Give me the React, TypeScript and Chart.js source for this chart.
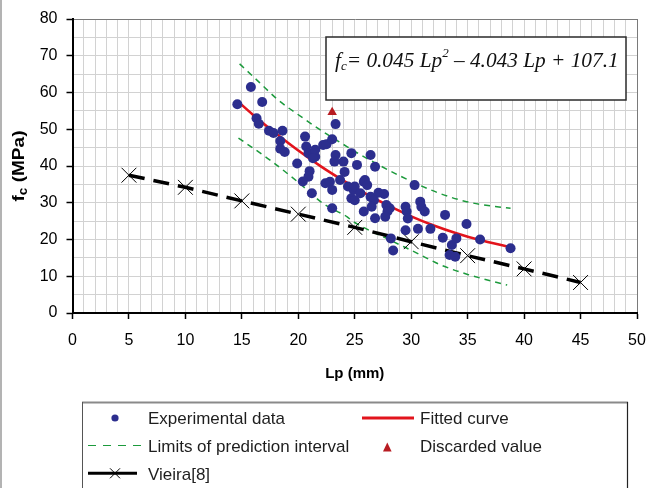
import React, { useEffect, useRef } from 'react';
import { Chart, registerables } from 'chart.js';

Chart.register(...registerables);

// ---------- data ----------
const expLp = [14.6, 15.8, 16.8, 16.3, 16.5, 17.4, 17.8, 18.6, 18.4, 18.4, 18.8, 19.9, 20.6, 20.7, 20.9, 21.3, 21.5, 21.5, 22.2, 22.5, 23.0, 23.3, 23.3, 23.2, 21.0, 20.9, 20.4, 21.2, 22.4, 22.8, 23.0, 23.7, 24.1, 24.0, 24.7, 25.2, 26.4, 26.8, 25.8, 25.9, 26.1, 24.4, 24.9, 25.0, 24.7, 25.0, 25.5, 26.4, 26.7, 26.5, 27.1, 27.6, 23.0, 25.8, 26.8, 27.8, 28.1, 27.9, 27.7, 29.5, 29.6, 29.7, 30.3, 30.8, 30.9, 31.2, 33.0, 29.5, 28.2, 28.4, 30.6, 31.7, 32.8, 33.6, 33.4, 33.9, 34.0, 34.9, 36.1, 38.8, 21.3];
const expFc = [56.8, 61.5, 57.4, 53.0, 51.5, 49.6, 49.0, 49.6, 46.8, 44.7, 43.8, 40.7, 48.0, 45.3, 43.5, 43.0, 42.5, 44.4, 45.7, 45.9, 47.3, 51.4, 43.0, 41.2, 38.6, 37.1, 35.8, 32.6, 35.3, 35.7, 33.5, 36.2, 38.4, 41.2, 43.5, 40.3, 43.0, 39.8, 35.7, 36.2, 34.8, 34.4, 33.5, 34.4, 31.2, 30.7, 32.6, 31.6, 30.7, 28.9, 32.7, 32.4, 28.5, 27.6, 25.8, 29.4, 28.5, 27.6, 26.2, 28.9, 27.6, 25.7, 34.8, 30.3, 28.9, 27.6, 26.7, 22.5, 20.3, 17.0, 22.9, 22.9, 20.5, 18.5, 15.8, 15.3, 20.3, 24.2, 20.0, 17.6, 42.1];

const discardedLp = [23.0];
const discardedFc = [54.6];

const fitLp = [14.6, 16, 18, 20, 22, 24, 26, 28, 30, 32, 34, 36, 38.8];
const fitFc = [57.7, 53.9, 48.9, 44.2, 39.9, 36.0, 32.4, 29.2, 26.3, 23.8, 21.7, 19.9, 17.9];

const upperLp = [14.8, 16.5, 18.2, 20.4, 22.3, 24.3, 25.2, 27.0, 29.0, 32.3, 34.9, 37.6, 38.8];
const upperFc = [67.8, 62.9, 58.0, 53.1, 49.1, 45.3, 43.6, 40.5, 37.3, 32.8, 30.3, 28.9, 28.5];

const lowerLp = [14.7, 17.5, 20.1, 22.2, 24.3, 24.9, 28.1, 30.5, 32.6, 35.0, 38.5];
const lowerFc = [47.6, 41.6, 35.3, 29.8, 26.2, 24.8, 19.9, 16.3, 13.1, 10.5, 7.6];

const vieiraLp = [5, 10, 15, 20, 25, 30, 35, 40, 45];
const vieiraFc = [37.5, 34.2, 30.5, 26.9, 23.3, 19.4, 15.6, 12.0, 8.3];

const xTickStep = 5;
const yTickStep = 10;

const zip = (xs: number[], ys: number[]) => xs.map((x, i) => ({ x, y: ys[i] }));

const FONT = '"Liberation Sans", Arial, sans-serif';

const yTitlePlugin = {
  id: 'yTitle',
  afterDraw(chart: any) {
    const { ctx, chartArea } = chart;
    ctx.save();
    ctx.translate(18, (chartArea.top + chartArea.bottom) / 2);
    ctx.rotate(-Math.PI / 2);
    ctx.scale(1.12, 1);
    ctx.fillStyle = '#000';
    ctx.textBaseline = 'alphabetic';
    ctx.textAlign = 'left';
    const big = `bold 17px ${FONT}`;
    const small = `bold 12px ${FONT}`;
    ctx.font = big;
    const wf = ctx.measureText('f').width;
    const wr = ctx.measureText(' (MPa)').width;
    ctx.font = small;
    const wc = ctx.measureText('c').width;
    const total = wf + wc + wr;
    let x = -total / 2;
    ctx.font = big;
    ctx.fillText('f', x, 6);
    x += wf;
    ctx.font = small;
    ctx.fillText('c', x, 9);
    x += wc;
    ctx.font = big;
    ctx.fillText(' (MPa)', x, 6);
    ctx.restore();
  },
};

export default function App() {
  const ref = useRef<HTMLCanvasElement | null>(null);

  useEffect(() => {
    if (!ref.current) return;
    const chart = new Chart(ref.current, {
      type: 'scatter',
      data: {
        datasets: [
          {
            label: 'Discarded value',
            data: zip(discardedLp, discardedFc),
            pointStyle: 'triangle',
            pointRadius: 5.5,
            backgroundColor: '#b81c22',
            borderColor: '#b81c22',
            borderWidth: 0,
          },
          {
            label: 'Experimental data',
            data: zip(expLp, expFc),
            pointStyle: 'circle',
            pointRadius: 5,
            backgroundColor: '#2c2e8e',
            borderColor: '#2c2e8e',
            borderWidth: 0,
          },
          {
            label: 'Vieira[8]',
            data: zip(vieiraLp, vieiraFc),
            showLine: true,
            borderColor: '#000',
            borderWidth: 3.5,
            borderDash: [16, 9],
            pointStyle: 'crossRot',
            pointRadius: 10.5,
            pointBorderWidth: 1,
            pointBorderColor: '#000',
            backgroundColor: '#000',
          },
          {
            label: 'Fitted curve',
            data: zip(fitLp, fitFc),
            showLine: true,
            borderColor: '#e2141c',
            borderWidth: 2.6,
            pointRadius: 0,
            cubicInterpolationMode: 'monotone',
          },
          {
            label: 'Upper limit',
            data: zip(upperLp, upperFc),
            showLine: true,
            borderColor: '#1c9a3c',
            borderWidth: 1.5,
            borderDash: [6, 5],
            pointRadius: 0,
            cubicInterpolationMode: 'monotone',
          },
          {
            label: 'Lower limit',
            data: zip(lowerLp, lowerFc),
            showLine: true,
            borderColor: '#1c9a3c',
            borderWidth: 1.5,
            borderDash: [6, 5],
            pointRadius: 0,
            cubicInterpolationMode: 'monotone',
          },
        ],
      },
      options: {
        responsive: false,
        animation: false,
        devicePixelRatio: 1,
        layout: { padding: { top: 19, right: 0, left: 0, bottom: 0 } },
        plugins: { legend: { display: false }, tooltip: { enabled: false } },
        scales: {
          x: {
            type: 'linear',
            min: 0,
            max: 50,
            afterFit: (s: any) => { s.height = 87; s.paddingRight = 12; s.paddingLeft = 0; },
            ticks: {
              stepSize: 1,
              autoSkip: false,
              maxTicksLimit: 200,
              maxRotation: 0,
              padding: 12,
              color: '#000',
              font: { family: FONT, size: 16 },
              callback: (v: any) => (Number(v) % xTickStep === 0 ? String(v) : ''),
            },
            grid: {
              color: (c: any) => (c.tick && c.tick.value === 50 ? '#7a7a7a' : '#d2d2d2'),
              lineWidth: 1,
              tickLength: 6,
              tickWidth: 1.5,
              tickColor: (c: any) => (c.tick && c.tick.value % xTickStep === 0 ? '#000' : 'rgba(0,0,0,0)'),
            },
            border: { color: '#000', width: 2 },
            title: {
              display: true,
              text: 'Lp (mm)',
              color: '#000',
              font: { family: FONT, size: 15, weight: 'bold' },
              padding: { top: 0, bottom: 17 },
            },
          },
          y: {
            type: 'linear',
            min: 0,
            max: 80,
            afterFit: (s: any) => { s.width = 72.5; },
            ticks: {
              stepSize: 5,
              autoSkip: false,
              maxTicksLimit: 200,
              padding: 9,
              color: '#000',
              font: { family: FONT, size: 16 },
              callback: (v: any) => (Number(v) % yTickStep === 0 ? String(v) : ''),
            },
            grid: {
              color: (c: any) => (c.tick && c.tick.value === 80 ? '#7a7a7a' : '#d2d2d2'),
              lineWidth: 1,
              tickLength: 6,
              tickWidth: 1.5,
              tickColor: (c: any) => (c.tick && c.tick.value % yTickStep === 0 ? '#000' : 'rgba(0,0,0,0)'),
            },
            border: { color: '#000', width: 2 },
          },
        },
      },
      plugins: [yTitlePlugin],
    } as any);
    return () => chart.destroy();
  }, []);

  const legendText = { fontFamily: FONT, fontSize: 17, fill: '#1e1e1e' } as any;

  return (
    <div style={{ position: 'fixed', left: 0, top: 0, width: 649, height: 488, background: '#fff', overflow: 'hidden' }}>
      <canvas ref={ref} width={649} height={400} style={{ position: 'absolute', left: 0, top: 0, width: 649, height: 400 }} />
      <svg width={649} height={488} style={{ position: 'absolute', left: 0, top: 0 }}>
        {/* outer frame left edge */}
        <line x1={1} y1={0} x2={1} y2={488} stroke="#9a9a9a" strokeWidth={1.5} />
        {/* equation box */}
        <rect x={326} y={37} width={300} height={63} fill="#fff" stroke="#2a2a2a" strokeWidth={1.5} />
        <text x={335} y={67} fontFamily='"Liberation Serif", "Times New Roman", serif' fontStyle="italic" fontSize={21.3} fill="#111">
          f<tspan fontSize={13} dy={3}>c</tspan>
          <tspan fontSize={21.3} dy={-3}>= 0.045 Lp</tspan>
          <tspan fontSize={13} dy={-10}>2</tspan>
          <tspan fontSize={21.3} dy={10}> – 4.043 Lp +  107.1</tspan>
        </text>
        {/* legend box */}
        <line x1={82} y1={402.5} x2={628} y2={402.5} stroke="#8a8a8a" strokeWidth={2} />
        <line x1={82.5} y1={402} x2={82.5} y2={488} stroke="#555" strokeWidth={1} />
        <line x1={627.5} y1={402} x2={627.5} y2={488} stroke="#222" strokeWidth={1.2} />
        {/* row 1 */}
        <circle cx={115} cy={418} r={3.6} fill="#2c2e8e" />
        <text x={148} y={423.5} style={legendText}>Experimental data</text>
        <line x1={362} y1={418} x2={414} y2={418} stroke="#e2141c" strokeWidth={3} />
        <text x={420} y={423.5} style={legendText}>Fitted curve</text>
        {/* row 2 */}
        <line x1={88} y1={445.5} x2={142} y2={445.5} stroke="#1c9a3c" strokeWidth={1.2} strokeDasharray="8 7" />
        <text x={148} y={451.7} style={legendText}>Limits of prediction interval</text>
        <polygon points="387.3,442.5 383,451.5 391.6,451.5" fill="#b81c22" />
        <text x={420} y={451.7} style={legendText}>Discarded value</text>
        {/* row 3 */}
        <line x1={88} y1={473.3} x2={137} y2={473.3} stroke="#000" strokeWidth={3} />
        <line x1={110} y1={468.3} x2={120} y2={478.3} stroke="#000" strokeWidth={1} />
        <line x1={110} y1={478.3} x2={120} y2={468.3} stroke="#000" strokeWidth={1} />
        <text x={148} y={480} style={legendText}>Vieira[8]</text>
      </svg>
    </div>
  );
}
